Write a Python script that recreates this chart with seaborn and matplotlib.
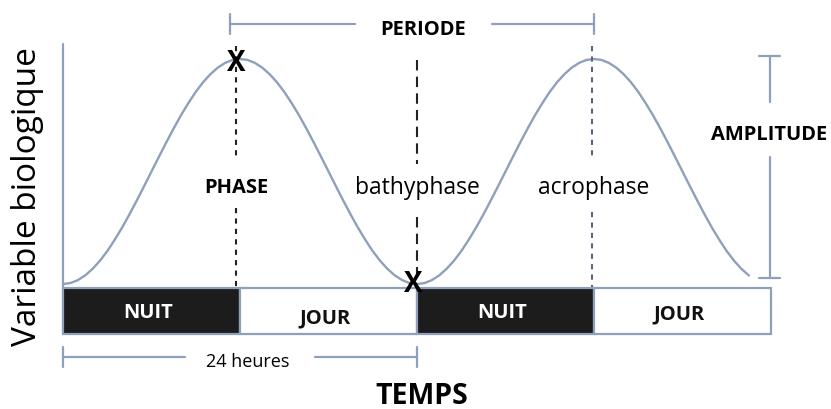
import numpy as np
import pandas as pd
import matplotlib
matplotlib.use("Agg")
import matplotlib.pyplot as plt
import seaborn as sns

# ---- data ----
# one rising half-cycle of the biological variable, every 0.5 h (0 = bathyphase, 1 = acrophase)
rise_half = [0.0, 0.004, 0.017, 0.038, 0.067, 0.103, 0.146, 0.196, 0.25, 0.309, 0.371, 0.435,
             0.5, 0.565, 0.629, 0.691, 0.75, 0.804, 0.854, 0.897, 0.933, 0.962, 0.983, 0.996, 1.0]
fall_half = rise_half[::-1]
curve_values = rise_half + fall_half[1:] + rise_half[1:] + fall_half[1:22]
curve_hours = [0.5 * i for i in range(len(curve_values))]

segment_starts = [0, 12, 24, 36]          # hours
segment_labels = ["NUIT", "JOUR", "NUIT", "JOUR"]
segment_fills = ["#1c1c1c", "#ffffff", "#1c1c1c", "#ffffff"]
segment_len = 12

acrophase_1 = 11.75
bathyphase_t = 24.0
acrophase_2 = 35.85

# ---- style ----
sns.set_theme(style="white")
plt.rcParams["font.family"] = ["Open Sans", "DejaVu Sans"]

W, H = 831, 410
fig = plt.figure(figsize=(W / 100, H / 100), dpi=100)
ax = fig.add_axes([0, 0, 1, 1])

# mapping: 14.75 px per hour, t=0 at px 63 ; value 0 at px 285, 1 at px 60
pxh = 14.75
pxv = 225.0
ax.set_xlim(-63 / pxh, (W - 63) / pxh)
ax.set_ylim((285 - H) / pxv, 285 / pxv)
ax.axis("off")

blue = "#8ea0ba"
dark = "#222222"

df = pd.DataFrame({"heure": curve_hours, "valeur": curve_values})
sns.lineplot(data=df, x="heure", y="valeur", ax=ax, color=blue, linewidth=1.7, sort=False)

# day/night bar
bar_bottom, bar_top = -0.222, -0.018
ax.bar(segment_starts, bar_top - bar_bottom, width=segment_len, bottom=bar_bottom, align="edge",
       color=segment_fills, edgecolor=blue, linewidth=1.6, zorder=3)
label_y = [-0.124, -0.147, -0.124, -0.129]
for s, lab, fc, ly in zip(segment_starts, segment_labels, segment_fills, label_y):
    ax.text(s + segment_len / 2 - 0.2, ly, lab, ha="center", va="center", fontsize=14.5,
            fontweight="bold", color="white" if fc != "#ffffff" else "#111111", zorder=4)

# y axis line
ax.plot([0, 0], [-0.222, 1.067], color=blue, linewidth=1.6, zorder=2)

# vertical dashed markers
ax.plot([acrophase_1, acrophase_1], [1.058, 0.56], color=dark, linewidth=1.5, linestyle=(0, (2.5, 2.5)))
ax.plot([acrophase_1, acrophase_1], [0.34, -0.018], color=dark, linewidth=1.5, linestyle=(0, (2.5, 2.5)))
ax.plot([bathyphase_t, bathyphase_t], [0.996, 0.535], color=dark, linewidth=1.5, linestyle=(0, (5, 3)))
ax.plot([bathyphase_t, bathyphase_t], [0.298, 0.01], color=dark, linewidth=1.5, linestyle=(0, (5, 3)))
ax.plot([acrophase_2, acrophase_2], [1.058, 0.566], color="#56677f", linewidth=1.5, linestyle=(0, (2.5, 2.5)))
ax.plot([acrophase_2, acrophase_2], [0.32, -0.018], color="#56677f", linewidth=1.5, linestyle=(0, (2.5, 2.5)))

# X markers
ax.text(acrophase_1, 0.985, "X", ha="center", va="center", fontsize=20, fontweight="bold", color="black", zorder=5)
ax.text(23.75, 0.0, "X", ha="center", va="center", fontsize=20, fontweight="bold", color="black", zorder=5)

# labels in the middle
ax.text(acrophase_1, 0.43, "PHASE", ha="center", va="center", fontsize=14.5, fontweight="bold", color="black")
ax.text(bathyphase_t, 0.43, "bathyphase", ha="center", va="center", fontsize=16.5, color="black")
ax.text(acrophase_2 + 0.1, 0.43, "acrophase", ha="center", va="center", fontsize=16.5, color="black")

# PERIODE bracket
py = 1.156
ax.plot([11.3, 19.8], [py, py], color=blue, linewidth=1.6)
ax.plot([29.1, 36.0], [py, py], color=blue, linewidth=1.6)
ax.plot([11.3, 11.3], [py - 0.045, py + 0.045], color=blue, linewidth=1.6)
ax.plot([36.0, 36.0], [py - 0.045, py + 0.045], color=blue, linewidth=1.6)
ax.text(24.4, 1.133, "PERIODE", ha="center", va="center", fontsize=14.5, fontweight="bold", color="black")

# AMPLITUDE bracket
ax_x = 47.9
ax.plot([ax_x, ax_x], [1.013, 0.809], color=blue, linewidth=1.6)
ax.plot([ax_x, ax_x], [0.564, 0.027], color=blue, linewidth=1.6)
ax.plot([ax_x - 0.7, ax_x + 0.7], [1.013, 1.013], color=blue, linewidth=1.6)
ax.plot([ax_x - 0.7, ax_x + 0.7], [0.027, 0.027], color=blue, linewidth=1.6)
ax.text(ax_x, 0.667, "AMPLITUDE", ha="center", va="center", fontsize=14.5, fontweight="bold", color="black")

# 24 heures bracket
hy = -0.324
ax.plot([0, 8.27], [hy, hy], color=blue, linewidth=1.6)
ax.plot([17.1, 24.0], [hy, hy], color=blue, linewidth=1.6)
ax.plot([0, 0], [hy - 0.045, hy + 0.045], color=blue, linewidth=1.6)
ax.plot([24.0, 24.0], [hy - 0.045, hy + 0.045], color=blue, linewidth=1.6)
ax.text(12.5, -0.342, "24 heures", ha="center", va="center", fontsize=13, color="black")

# axis titles
ax.text(24.3, -0.495, "TEMPS", ha="center", va="center", fontsize=20.5, fontweight="bold", color="black")
ax.text(-2.4, 0.391, "Variable biologique", ha="center", va="center", rotation=90, fontsize=24, color="black")

fig.savefig("out.png", dpi=100)
